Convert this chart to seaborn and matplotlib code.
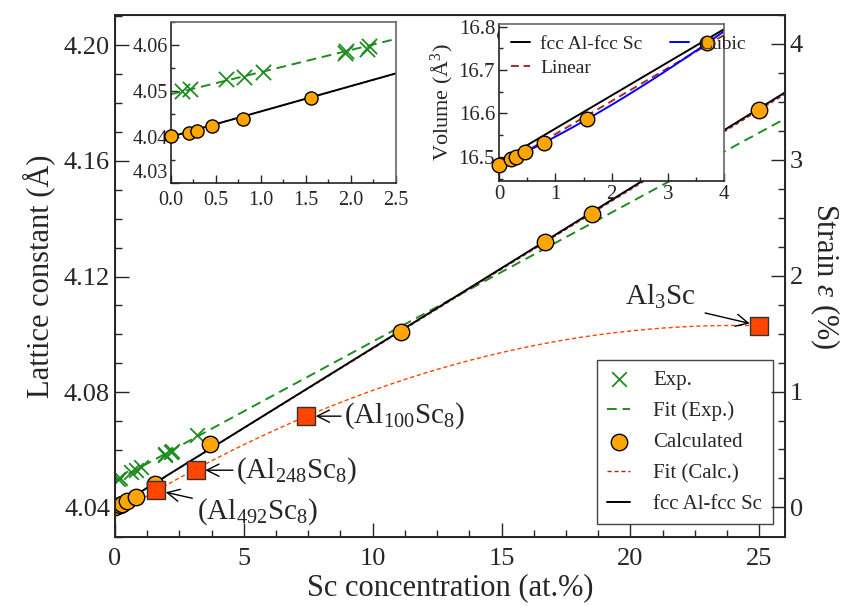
import numpy as np
import matplotlib
matplotlib.use("Agg")
import matplotlib.pyplot as plt
import seaborn as sns

# experimental lattice constants (Sc at.% vs a in Angstrom)
exp_x = [0.12, 0.21, 0.61, 0.81, 1.02, 1.93, 1.95, 2.18, 2.20, 3.17]
exp_a = [4.0500, 4.0503, 4.0525, 4.0531, 4.0542, 4.0582, 4.0586, 4.0592, 4.0598, 4.0652]

# calculated (dilute / ordered cells)
calc_x = [0.0, 0.20, 0.29, 0.46, 0.80, 1.56, 3.70, 11.11, 16.67, 18.52, 25.0]
calc_a = [4.0402, 4.0408, 4.0413, 4.0424, 4.0439, 4.0484, 4.0621, 4.1007, 4.1320, 4.1416, 4.1776]

# supercell results
sc_x = [1.60, 3.125, 7.41, 25.0]
sc_a = [4.0461, 4.0530, 4.0717, 4.1030]
sc_labels = ["(Al$_{492}$Sc$_8$)", "(Al$_{248}$Sc$_8$)", "(Al$_{100}$Sc$_8$)", "Al$_3$Sc"]

# fcc Al - fcc Sc reference line
veg_x = [0.0, 26.0]
veg_a = [4.0400, 4.1837]

# volume inset
vol_x = [0.0, 0.20, 0.29, 0.46, 0.80, 1.56, 3.70]
vol_v = [16.481, 16.495, 16.500, 16.512, 16.531, 16.587, 16.762]
vol_veg_x = [0.0, 4.0]
vol_veg_v = [16.489, 16.794]

GREEN = "#1e8c1e"
ORANGE = "#ffa500"
RED = "#ff4500"
BROWN = "#a52a2a"

sns.set_style("ticks")
plt.rcParams["font.family"] = ["Liberation Serif", "DejaVu Serif"]
plt.rcParams["mathtext.fontset"] = "custom"
plt.rcParams["mathtext.rm"] = "Liberation Serif"
plt.rcParams["mathtext.it"] = "Liberation Serif:italic"
plt.rcParams["xtick.direction"] = "in"
plt.rcParams["ytick.direction"] = "in"


def style_ticks(ax, size, major=8, minor=4):
    ax.tick_params(which="major", length=major, width=1, labelsize=size)
    ax.tick_params(which="minor", length=minor, width=1)


fig = plt.figure(figsize=(8.46, 6.06), dpi=100)
ax = fig.add_axes([0.1359, 0.1139, 0.792, 0.8614])

# fits
xx = np.linspace(0, 26, 200)
p_exp = np.polyfit(exp_x, exp_a, 1)
p_calc = np.polyfit(calc_x, calc_a, 1)
p_sc = np.polyfit(sc_x, sc_a, 2)
xs = np.linspace(0, 25, 200)

sns.lineplot(x=xs, y=np.polyval(p_sc, xs), ax=ax, color=RED, lw=1.0,
             linestyle=(0, (3, 2)))
sns.lineplot(x=xx, y=np.polyval(p_exp, xx), ax=ax, color=GREEN, lw=1.4,
             linestyle=(0, (5, 3)), label="Fit (Exp.)")
sns.lineplot(x=xx, y=np.polyval(p_calc, xx), ax=ax, color=BROWN, lw=1.0,
             linestyle=(0, (3, 2)), label="Fit (Calc.)")
sns.lineplot(x=veg_x, y=veg_a, ax=ax, color="black", lw=1.4, label="fcc Al-fcc Sc")
sns.scatterplot(x=exp_x, y=exp_a, ax=ax, marker="x", color=GREEN, s=110,
                linewidth=1.3, label="Exp.", zorder=4)
sns.scatterplot(x=calc_x, y=calc_a, ax=ax, color=ORANGE, edgecolor="black",
                s=140, linewidth=1.0, label="Calculated", zorder=5)
sns.scatterplot(x=sc_x, y=sc_a, ax=ax, marker="s", color=RED, edgecolor="#333333",
                s=170, linewidth=1.0, zorder=5)

ax.set_xlim(0, 26)
ax.set_ylim(4.0299, 4.2105)
ax.set_xticks([0, 5, 10, 15, 20, 25])
ax.set_xticks(np.arange(0, 26.1, 1.25), minor=True)
ax.set_yticks([4.04, 4.08, 4.12, 4.16, 4.20])
ax.set_yticks(np.arange(4.03, 4.211, 0.01), minor=True)
ax.set_yticklabels(["4.04", "4.08", "4.12", "4.16", "4.20"])
style_ticks(ax, 19, 10, 5)
ax.tick_params(axis="x", pad=8)
ax.set_xlabel("Sc concentration (at.%)", fontsize=22, labelpad=2)
ax.set_ylabel("Lattice constant (Å)", fontsize=22, labelpad=6)
for s in ax.spines.values():
    s.set_linewidth(1.4)

# strain axis
a0 = calc_a[0]
ax2 = ax.twinx()
lo, hi = ax.get_ylim()
ax2.set_ylim((lo / a0 - 1) * 100, (hi / a0 - 1) * 100)
ax2.set_yticks([0, 1, 2, 3, 4])
ax2.set_yticks(np.arange(0, 4.3, 0.25), minor=True)
style_ticks(ax2, 19, 10, 5)
ax2.set_ylabel(r"Strain $\varepsilon$ (%)", fontsize=22, rotation=270, labelpad=28)

# annotations
arrow = dict(arrowstyle="->", color="black", lw=1.0, shrinkA=0, shrinkB=7,
             mutation_scale=22)
ax.annotate(sc_labels[2], xy=(sc_x[2], sc_a[2]), xytext=(8.9, sc_a[2]),
            fontsize=21, va="center", ha="left", arrowprops=arrow)
ax.annotate(sc_labels[1], xy=(sc_x[1], sc_a[1]), xytext=(4.7, sc_a[1]),
            fontsize=21, va="center", ha="left", arrowprops=arrow)
ax.annotate("", xy=(sc_x[0], sc_a[0]), xytext=(3.0, 4.0433), arrowprops=arrow)
ax.text(3.2, 4.0385, sc_labels[0], fontsize=21, va="center", ha="left")
ax.annotate("", xy=(sc_x[3], sc_a[3]), xytext=(22.9, 4.1074), arrowprops=arrow)
ax.text(19.8, 4.1128, sc_labels[3], fontsize=21, va="center", ha="left")

h, l = ax.get_legend_handles_labels()
hd = dict(zip(l, h))
order = ["Exp.", "Fit (Exp.)", "Calculated", "Fit (Calc.)", "fcc Al-fcc Sc"]
leg = ax.legend([hd[k] for k in order], order, loc="lower right", fontsize=15,
                frameon=True, fancybox=False, framealpha=1, edgecolor="#444444",
                handlelength=1.1, handletextpad=1.1, labelspacing=0.55,
                borderpad=0.5, borderaxespad=0.6)
leg.get_frame().set_linewidth(1.0)

# lattice inset
ins = fig.add_axes([0.2018, 0.6985, 0.2663, 0.2652])
xi = np.linspace(0, 2.5, 50)
sns.lineplot(x=xi, y=np.polyval(p_exp, xi), ax=ins, color=GREEN, lw=1.4,
             linestyle=(0, (5, 3)))
sns.lineplot(x=xi, y=np.polyval(p_calc, xi), ax=ins, color=BROWN, lw=1.0,
             linestyle=(0, (3, 2)))
sns.lineplot(x=veg_x, y=veg_a, ax=ins, color="black", lw=1.4)
sns.scatterplot(x=exp_x, y=exp_a, ax=ins, marker="x", color=GREEN, s=120,
                linewidth=1.3, zorder=4)
sns.scatterplot(x=calc_x, y=calc_a, ax=ins, color=ORANGE, edgecolor="black",
                s=90, linewidth=1.0, zorder=5, clip_on=False)
ins.set_xlim(0, 2.5)
ins.set_ylim(4.03, 4.065)
ins.set_xticks([0, 0.5, 1.0, 1.5, 2.0, 2.5])
ins.set_xticklabels(["0.0", "0.5", "1.0", "1.5", "2.0", "2.5"])
ins.set_xticks(np.arange(0, 2.51, 0.25), minor=True)
ins.set_yticks([4.03, 4.04, 4.05, 4.06])
ins.set_yticklabels(["4.03", "4.04", "4.05", "4.06"])
ins.set_yticks(np.arange(4.03, 4.066, 0.005), minor=True)
style_ticks(ins, 14.5, 6, 3)
ins.tick_params(axis="x", pad=6)
ins.tick_params(axis="y", pad=2)
ins.get_yticklabels()[0].set_va("bottom")

# volume inset
inv = fig.add_axes([0.5902, 0.7018, 0.2656, 0.2586])
xv = np.linspace(0, 4, 100)
p_lin = np.polyfit(vol_x, vol_v, 1)
p_cub = np.polyfit(vol_x, vol_v, 3)
sns.lineplot(x=vol_veg_x, y=vol_veg_v, ax=inv, color="black", lw=1.4,
             label="fcc Al-fcc Sc")
sns.lineplot(x=xv, y=np.polyval(p_lin, xv), ax=inv, color=BROWN, lw=1.4,
             linestyle=(0, (4, 2.5)), label="Linear")
sns.lineplot(x=xv, y=np.polyval(p_cub, xv), ax=inv, color="blue", lw=1.4,
             label="Cubic")
sns.scatterplot(x=vol_x, y=vol_v, ax=inv, color=ORANGE, edgecolor="black",
                s=110, linewidth=1.0, zorder=5, clip_on=False)
inv.set_xlim(0, 4)
inv.set_ylim(16.445, 16.806)
inv.set_xticks([0, 1, 2, 3, 4])
inv.set_xticks(np.arange(0, 4.01, 0.5), minor=True)
inv.set_yticks([16.5, 16.6, 16.7, 16.8])
inv.set_yticklabels(["16.5", "16.6", "16.7", "16.8"])
inv.set_yticks(np.arange(16.45, 16.81, 0.05), minor=True)
style_ticks(inv, 15, 6, 3)
inv.tick_params(pad=3)
inv.set_ylabel("Volume (Å$^3$)", fontsize=16, labelpad=2)
inv.legend(loc="upper left", ncol=2, frameon=False, fontsize=14,
           handlelength=1.0, handletextpad=0.5, columnspacing=1.4,
           borderaxespad=0.2, labelspacing=0.3)

for a in (ins, inv):
    for side in ("left", "bottom"):
        a.spines[side].set_color("#222222")
    for side in ("top", "right"):
        a.spines[side].set_color("#666666")
    for s in a.spines.values():
        s.set_linewidth(1.2)

fig.savefig("out.png", dpi=100)
